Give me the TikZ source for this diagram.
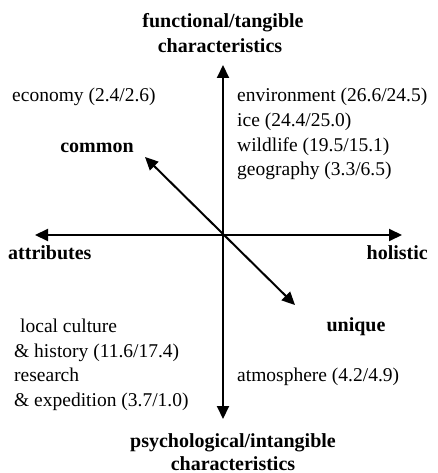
\documentclass[tikz,border=0pt]{standalone}
\usepackage{fontspec}
\setmainfont{Liberation Serif}
\usetikzlibrary{arrows.meta}
\begin{document}
\begin{tikzpicture}[x=1bp,y=-1bp,
  axis/.style={line width=2bp,{Triangle[length=13bp,width=12bp]}-{Triangle[length=13bp,width=12bp]}},
  lbl/.style={inner sep=0pt,font=\fontsize{19.5bp}{25bp}\selectfont},
  blbl/.style={inner sep=0pt,font=\fontsize{20bp}{25bp}\selectfont\bfseries}]
\useasboundingbox (0,0) rectangle (438,473);
\coordinate (O) at (223,235);
\coordinate (T) at (223,65);
\coordinate (B) at (223,419);
\coordinate (L) at (35,235);
\coordinate (R) at (402,235);
\coordinate (C) at (145,157);
\coordinate (U) at (295,305);
\draw[axis] (B) -- (T);
\draw[axis] (L) -- (R);
\draw[axis] (C) -- (U);
% top labels
\node[blbl,anchor=base] (ft1) at (223,28) {functional/tangible};
\node[blbl,anchor=base] (ft2) at (220,53) {characteristics};
\node[lbl,anchor=base west] (eco) at (12,102) {economy (2.4/2.6)};
\node[lbl,anchor=base west] (env) at (237,102) {environment (26.6/24.5)};
\node[lbl,anchor=base west] (ice) at (237,127) {ice (24.4/25.0)};
\node[lbl,anchor=base west] (wild) at (237,152) {wildlife (19.5/15.1)};
\node[lbl,anchor=base west] (geo) at (237,176) {geography (3.3/6.5)};
\node[blbl,anchor=base] (com) at (97,153) {common};
\node[blbl,anchor=base west] (att) at (8,259) {attributes};
\node[blbl,anchor=base east] (hol) at (428,259) {holistic};
\node[blbl,anchor=base] (uni) at (356,331) {unique};
\node[lbl,anchor=base west] (lc1) at (20,332) {local culture};
\node[lbl,anchor=base west] (lc2) at (14,357) {\& history (11.6/17.4)};
\node[lbl,anchor=base west] (re1) at (14,381) {research};
\node[lbl,anchor=base west] (re2) at (14,406) {\& expedition (3.7/1.0)};
\node[lbl,anchor=base west] (atm) at (237,381) {atmosphere (4.2/4.9)};
\node[blbl,anchor=base] (pi1) at (233,447) {psychological/intangible};
\node[blbl,anchor=base] (pi2) at (233,470) {characteristics};
\end{tikzpicture}
\end{document}
